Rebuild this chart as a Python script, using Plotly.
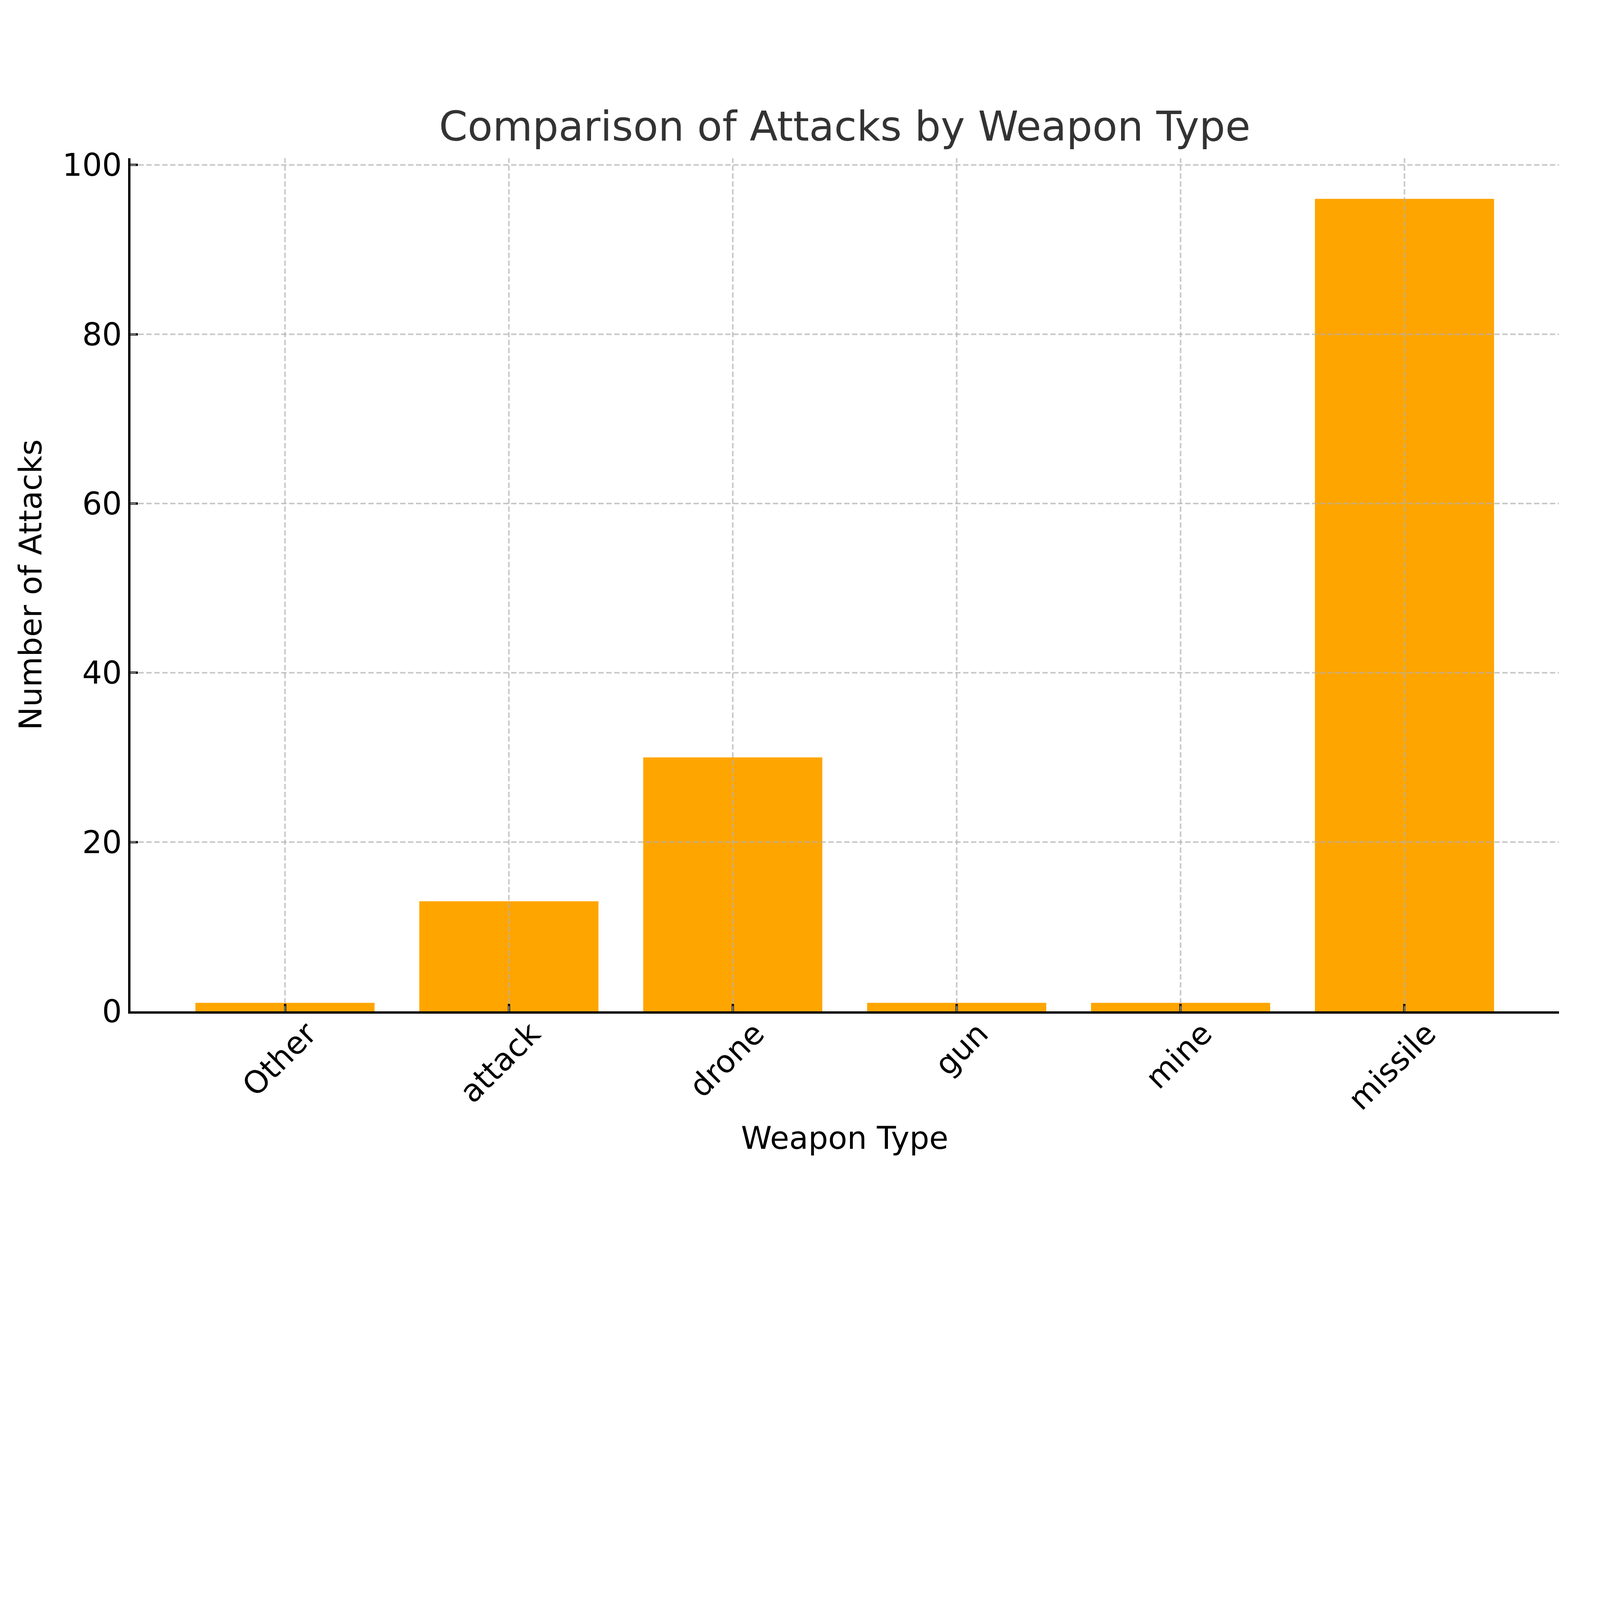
import plotly.graph_objects as go

# values
weapon_types = ["Other", "attack", "drone", "gun", "mine", "missile"]
attack_counts = [1, 13, 30, 1, 1, 96]
y_ticks = [0, 20, 40, 60, 80, 100]

BAR_COLOR = "#FFA500"
GRID_COLOR = "rgba(176,176,176,0.7)"
FONT = "DejaVu Sans"

# the browser viewport is 4096 px wide, so shrink the 5646x4136 reference to fit
K = 4096 / 5646
W, H = 4096, round(4136 * K)


def px(v):
    return v * K


fig = go.Figure(
    go.Bar(
        x=weapon_types,
        y=attack_counts,
        width=0.8,
        marker=dict(color=BAR_COLOR, line=dict(width=0)),
    )
)

# the dashed grid sits on top of the bars in the original, so draw it as shapes
grid_line = dict(color=GRID_COLOR, width=px(5.5), dash=f"{px(19):.1f}px,{px(9):.1f}px")
for yv in y_ticks[1:]:
    fig.add_shape(type="line", xref="paper", x0=0, x1=1, yref="y", y0=yv, y1=yv,
                  line=grid_line, layer="above")
for cat in weapon_types:
    fig.add_shape(type="line", xref="x", x0=cat, x1=cat, yref="paper", y0=0, y1=1,
                  line=grid_line, layer="above")

fig.update_layout(
    width=W,
    height=H,
    margin=dict(l=px(450), r=px(156), t=px(547), b=px(579), autoexpand=False),
    plot_bgcolor="white",
    paper_bgcolor="white",
    font=dict(family=FONT, size=px(110), color="black"),
    title=dict(
        text="Comparison of Attacks by Weapon Type",
        font=dict(family=FONT, size=px(144.5), color="#333333"),
        x=0.5, xref="paper", xanchor="center",
        y=1, yref="paper", yanchor="bottom",
        pad=dict(b=px(62)),
    ),
    showlegend=False,
)

axis_style = dict(
    showline=True, linecolor="black", linewidth=px(8),
    ticks="inside", ticklen=px(26), tickwidth=px(8), tickcolor="black",
    tickfont=dict(size=px(110)),
    showgrid=False, zeroline=False, automargin=False,
)
fig.update_xaxes(
    title=dict(text="Weapon Type", font=dict(size=px(110)), standoff=round(px(38))),
    range=[-0.69, 5.69],
    tickangle=-45, ticklabelshift=round(px(78)), ticklabelstandoff=round(px(-39)),
    **axis_style,
)
fig.update_yaxes(
    title=dict(text="Number of Attacks", font=dict(size=px(110)), standoff=round(px(40))),
    range=[0, 100.8],
    tickvals=y_ticks,
    **axis_style,
)

fig.write_html("out.html")
